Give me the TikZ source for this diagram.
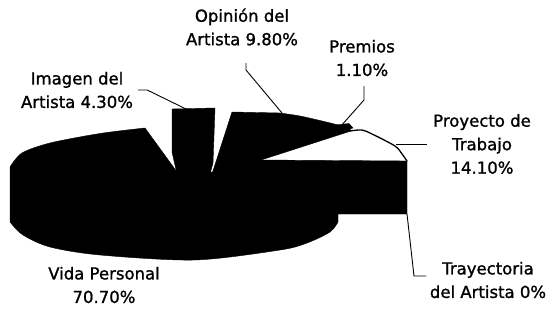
\documentclass[tikz,border=0pt]{standalone}
\usepackage{fontspec}
\setmainfont{DejaVu Sans}[FakeBold=1.2]
\tikzset{
  slice/.style={fill=black, draw=black, line width=0.4pt, line join=round},
  rim/.style={draw=black, line width=1.3pt, line cap=round},
  lbl/.style={align=center, inner sep=0pt, font=\fontsize{16.5}{23.5}\selectfont},
  leader/.style={draw=black, line width=0.9pt}
}
\begin{document}
\begin{tikzpicture}[x=1pt, y=-1pt]
\useasboundingbox (0,0) rectangle (552,324);
% points on the pie
\coordinate (imagenTip) at (186,109);
\coordinate (opinionTip) at (282,113);
\coordinate (premiosTip) at (341,126);
\coordinate (proyectoTip) at (396,144);
\coordinate (boxCorner) at (407,214);
% body of the pie
\fill[slice] (177,172) -- (145,128)
  -- plot[smooth] coordinates {(145,128) (100,133.5) (50,143) (22,153) (10,167)}
  -- (10,222)
  -- plot[smooth] coordinates {(10,222) (23,235) (50,247) (100,255) (195,260) (280,250) (307,243) (330,232) (338,222)}
  -- (338,214) -- (boxCorner) -- (407,161) -- (258,160) -- (212,172) -- cycle;
% Imagen del Artista
\fill[slice] (172,109) -- (215,108) -- (213,163) -- (210,174) -- (177,174) -- (172,152) -- cycle;
% Opinion del Artista and Premios
\fill[slice] (232,112) -- (280,113)
  -- plot[smooth] coordinates {(280,113) (300,116) (322,121) (338,125) (350,129)}
  -- (351,131) -- (258,161) -- (212,174) -- cycle;
\fill[slice] (336,125) -- (349,123.5) -- (353,128) -- (346,130) -- cycle;
% Proyecto de Trabajo
\draw[rim] plot[smooth] coordinates {(350,131) (362,130) (372,134) (395,146) (402,154) (407,161)};
% labels
\node[lbl] (opinion) at (242,27) {Opinión del\\Artista 9.80\%};
\node[lbl] (imagen) at (77,90) {Imagen del\\Artista 4.30\%};
\node[lbl] (premios) at (362,58) {Premios\\1.10\%};
\node[lbl] (proyecto) at (482,144) {Proyecto de\\Trabajo\\14.10\%};
\node[lbl] (trayectoria) at (488,280) {Trayectoria\\del Artista 0\%};
\node[lbl] (vida) at (104,285) {Vida Personal\\70.70\%};
% leaders
\draw[leader] ([xshift=5pt]imagen.east) -- ++(9,0) -- (imagenTip);
\draw[leader] (246,63) -- (246,70) -- (opinionTip);
\draw[leader] (364,86) -- (364,100) -- (premiosTip);
\draw[leader] (proyectoTip) -- (427,144);
\draw[leader] (boxCorner) -- (414,276) -- (426,276);
\end{tikzpicture}
\end{document}
